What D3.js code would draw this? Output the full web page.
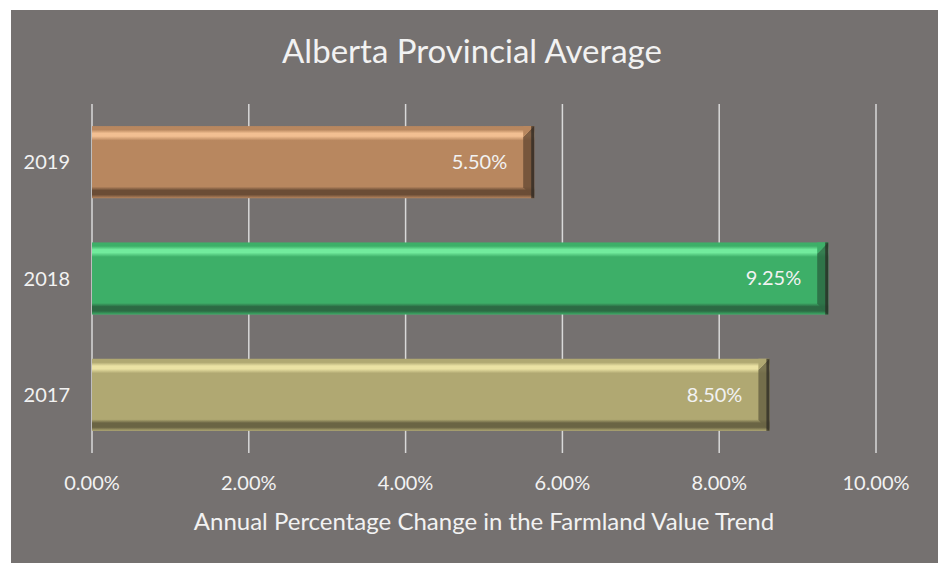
<!DOCTYPE html>
<html>
<head>
<meta charset="utf-8">
<script src="https://cdn.jsdelivr.net/npm/d3@7"></script>
<style>
  body { margin: 0; background: #ffffff; }
  text { font-family: Lato, "Open Sans", sans-serif; fill: #f2f2f2; }
</style>
</head>
<body>
<svg id="chart" width="939" height="563"></svg>
<script>
// chart data
const years = ["2019", "2018", "2017"];
const changes = [5.50, 9.25, 8.50];
const xTicks = [0, 2, 4, 6, 8, 10];
const titleText = "Alberta Provincial Average";
const axisTitle = "Annual Percentage Change in the Farmland Value Trend";

// bar colours: base, highlight, shadow
const barColors = {
  "2019": ["#b8875f", "#f2bf92", "#6b4d36"],
  "2018": ["#3daf68", "#72eb9d", "#2c6a43"],
  "2017": ["#b0a872", "#ebe2a4", "#6a6444"]
};

const svg = d3.select("#chart");
const margin = { top: 104, right: 63, bottom: 110, left: 92 };
const width = 939 - margin.left - margin.right;
const height = 563 - margin.top - margin.bottom;

// grey panel
svg.append("rect")
  .attr("x", 11).attr("y", 10)
  .attr("width", 927).attr("height", 553)
  .attr("fill", "#757170");

svg.append("text")
  .attr("x", 472).attr("y", 51)
  .attr("dy", "0.35em")
  .attr("text-anchor", "middle")
  .style("font-size", "33px")
  .text(titleText);

const x = d3.scaleLinear().domain([0, 10]).range([0, width]);
const y = d3.scaleBand().domain(years).range([0, height]).paddingInner(0.38).paddingOuter(0.19);

const g = svg.append("g").attr("transform", `translate(${margin.left},${margin.top})`);

// gridlines
g.selectAll("line.grid").data(xTicks)
  .join("line")
  .attr("class", "grid")
  .attr("x1", d => x(d)).attr("x2", d => x(d))
  .attr("y1", 0).attr("y2", height)
  .attr("stroke", "#d9d9d9")
  .attr("stroke-width", 1.5);

// gradients
const defs = svg.append("defs");
years.forEach(yr => {
  const c = barColors[yr];
  const grad = defs.append("linearGradient")
    .attr("id", "grad" + yr)
    .attr("x1", 0).attr("x2", 0).attr("y1", 0).attr("y2", 1);
  const stops = [
    [0, c[0]], [0.05, c[0]], [0.10, c[1]], [0.14, c[1]], [0.20, c[0]],
    [0.84, c[0]], [0.89, c[2]], [0.95, c[2]], [1, c[0]]
  ];
  stops.forEach(s => grad.append("stop").attr("offset", s[0]).attr("stop-color", s[1]));
});

const bevel = 11;
const bars = g.selectAll("g.bar").data(years)
  .join("g")
  .attr("class", "bar")
  .attr("transform", d => `translate(0,${y(d)})`);

bars.append("rect")
  .attr("x", x(0))
  .attr("y", 0)
  .attr("width", (d, i) => x(changes[i]) + bevel)
  .attr("height", y.bandwidth())
  .attr("fill", d => `url(#grad${d})`);

// right end bevel
bars.append("path")
  .attr("d", (d, i) => {
    const xe = x(changes[i]) + bevel;
    const h = y.bandwidth();
    return `M${xe - bevel},${bevel} L${xe},0 L${xe},${h} L${xe - bevel},${h - bevel} Z`;
  })
  .attr("fill", d => barColors[d][2])
  .attr("opacity", 0.85);
bars.append("path")
  .attr("d", (d, i) => {
    const xe = x(changes[i]) + bevel;
    return `M${xe - bevel},0 L${xe},0 L${xe - bevel},${bevel} Z`;
  })
  .attr("fill", d => barColors[d][0]);
bars.append("path")
  .attr("d", (d, i) => {
    const xe = x(changes[i]) + bevel;
    return `M${xe - 3},0 L${xe},0 L${xe},${y.bandwidth()} L${xe - 3},${y.bandwidth()} Z`;
  })
  .attr("fill", "#2a2622")
  .attr("opacity", 0.7);

// value labels
bars.append("text")
  .attr("x", (d, i) => x(changes[i]) - 16)
  .attr("y", y.bandwidth() / 2)
  .attr("dy", "0.35em")
  .attr("text-anchor", "end")
  .style("font-size", "20px")
  .text((d, i) => changes[i].toFixed(2) + "%");

// y labels
g.selectAll("text.ylab").data(years)
  .join("text")
  .attr("class", "ylab")
  .attr("x", -22)
  .attr("y", d => y(d) + y.bandwidth() / 2)
  .attr("dy", "0.35em")
  .attr("text-anchor", "end")
  .style("font-size", "20px")
  .text(d => d);

// x tick labels
g.selectAll("text.xlab").data(xTicks)
  .join("text")
  .attr("class", "xlab")
  .attr("x", d => x(d))
  .attr("y", height + 30)
  .attr("dy", "0.35em")
  .attr("text-anchor", "middle")
  .style("font-size", "20px")
  .text(d => d.toFixed(2) + "%");

svg.append("text")
  .attr("x", 484).attr("y", 522)
  .attr("dy", "0.35em")
  .attr("text-anchor", "middle")
  .style("font-size", "24px")
  .text(axisTitle);
</script>
</body>
</html>
